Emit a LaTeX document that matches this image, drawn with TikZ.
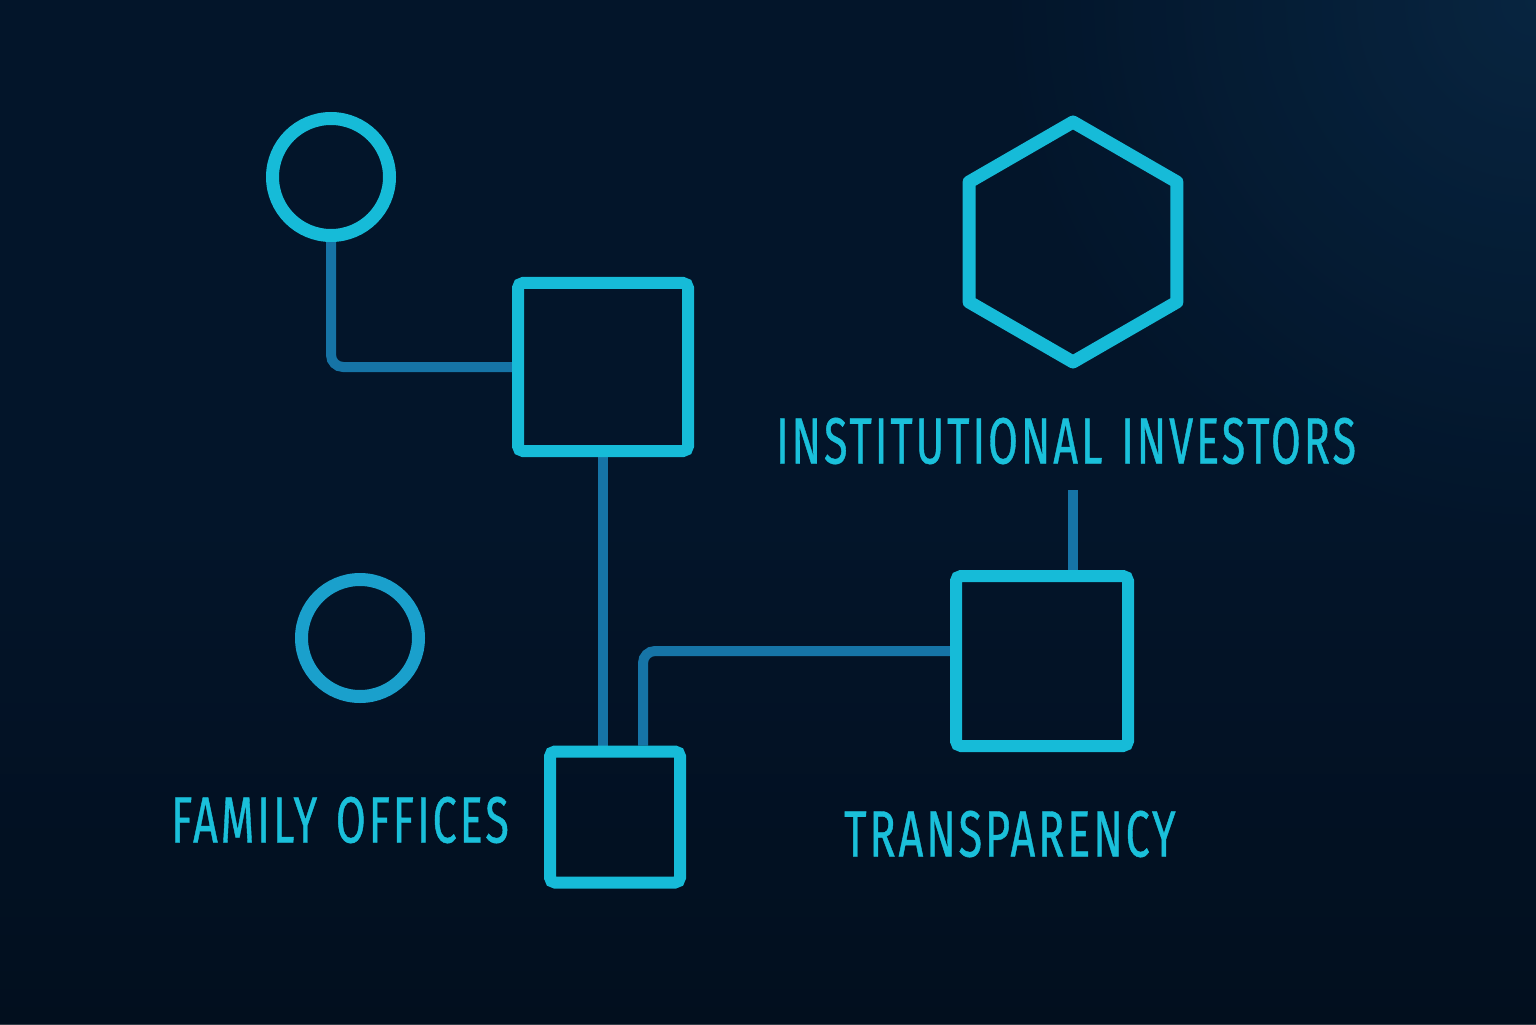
\documentclass[tikz,border=0pt]{standalone}
\usepackage{fontspec}
\usepackage{xcolor}
\usepackage{tikz}
\usetikzlibrary{shapes.geometric, positioning, calc, backgrounds}
\newfontfamily\labelfont[FakeStretch=0.66, LetterSpace=4.5, WordSpace=1.3, FakeBold=0.6]{Fira Sans}
\definecolor{bgbase}{HTML}{03152A}
\definecolor{bgdark}{HTML}{020E1C}
\definecolor{bgglow}{HTML}{0A2C4A}
\definecolor{shapecyan}{HTML}{16BBD8}
\definecolor{ringblue}{HTML}{1AA0CC}
\definecolor{linkblue}{HTML}{1674A6}
\definecolor{textcyan}{HTML}{1AC0DA}
\pgfdeclarelayer{background}
\pgfdeclarelayer{connect}
\pgfsetlayers{background,connect,main}

\begin{document}
\begin{tikzpicture}[
    ring/.style={draw=shapecyan, circle, line width=0.13cm, minimum size=1.17cm, inner sep=0pt},
    sqbox/.style={draw=shapecyan, rectangle, rounded corners=0.05cm, line width=0.12cm, inner sep=0pt},
    hexbox/.style={draw=shapecyan, regular polygon, regular polygon sides=6, shape border rotate=30, line width=0.13cm, line join=round, minimum size=2.40cm, inner sep=0pt},
    label/.style={text=textcyan, font=\labelfont\fontsize{18.6}{20}\selectfont, inner sep=0pt},
    link/.style={draw=linkblue, line width=0.1cm, rounded corners=0.12cm}
]
\useasboundingbox (0,0) rectangle (15.36,10.24);

% shapes
\node[ring] (topring) at (3.31,8.47) {};
\node[sqbox, minimum width=1.70cm, minimum height=1.68cm] (hub) at (6.03,6.57) {};
\node[hexbox] (hex) at (10.73,7.82) {};
\node[label] (inst) at (10.66,5.83) {INSTITUTIONAL INVESTORS};
\node[sqbox, minimum width=1.72cm, minimum height=1.70cm] (transbox) at (10.42,3.63) {};
\node[ring, draw=ringblue] (famring) at (3.60,3.86) {};
\node[label] (fam) at (3.40,2.04) {FAMILY OFFICES};
\node[sqbox, minimum width=1.30cm, minimum height=1.31cm] (base) at (6.15,2.07) {};
\node[label] (trans) at (10.10,1.90) {TRANSPARENCY};

\coordinate (instfoot) at (10.73,5.34);

% connectors
\begin{pgfonlayer}{connect}
\draw[link] (topring.south) |- (hub.west);
\draw[link] (hub.south) -- (hub.south |- base.north);
\draw[link] ([yshift=1mm]transbox.west) -| ([xshift=2.8mm]base.north);
\draw[link] (instfoot) -- (instfoot |- transbox.north);
\end{pgfonlayer}

\begin{pgfonlayer}{background}
\fill[bgbase] (0,0) rectangle (15.36,10.24);
\shade[top color=bgbase, bottom color=bgdark, opacity=0.8] (0,0) rectangle (15.36,5.0);
\shade[inner color=bgglow, outer color=bgbase, opacity=0.7] (15.36,10.24) circle (5.5);
\end{pgfonlayer}

\end{tikzpicture}
\end{document}
